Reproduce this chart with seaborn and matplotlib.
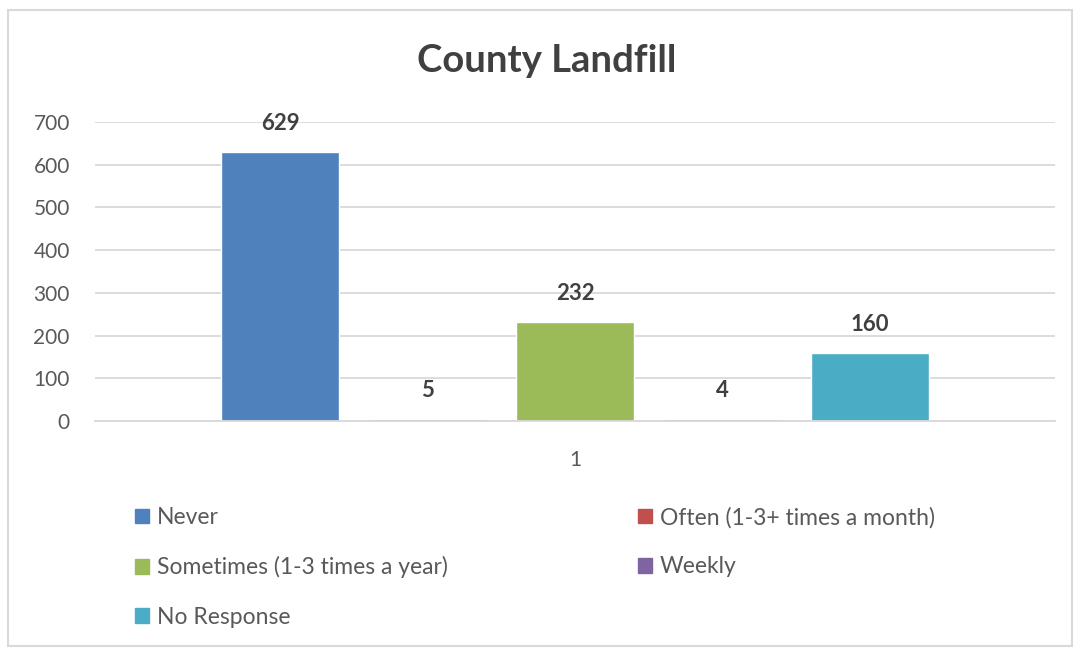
import pandas as pd
import matplotlib
matplotlib.use('Agg')
import matplotlib.pyplot as plt
from matplotlib.patches import Rectangle
import seaborn as sns

# data
categories = ['Never', 'Often (1-3+ times a month)', 'Sometimes (1-3 times a year)',
              'Weekly', 'No Response']
counts = [629, 5, 232, 4, 160]
colors = ['#4F81BD', '#C0504D', '#9BBB59', '#8064A2', '#4BACC6']
group_label = '1'
y_ticks = [0, 100, 200, 300, 400, 500, 600, 700]

df = pd.DataFrame({'group': [group_label] * len(categories),
                   'answer': categories,
                   'count': counts})

sns.set_theme(style='white')
plt.rcParams['font.family'] = ['Lato', 'DejaVu Sans']

fig = plt.figure(figsize=(10.78, 6.52), dpi=100)
ax = fig.add_axes([0.088, 0.354, 0.891, 0.459])

sns.barplot(data=df, x='group', y='count', hue='answer', hue_order=categories,
            palette=colors, width=0.768, gap=0.2, saturation=1, ax=ax,
            legend=False)

ax.set_xlim(-0.5, 0.5)
ax.set_ylim(0, 700)
ax.set_yticks(y_ticks)
ax.set_xlabel('')
ax.set_ylabel('')
ax.grid(axis='y', color='#D9D9D9', linewidth=1.3)
ax.set_axisbelow(True)
for s in ['top', 'right', 'left']:
    ax.spines[s].set_visible(False)
ax.spines['bottom'].set_color('#D9D9D9')
ax.spines['bottom'].set_linewidth(1.3)
ax.tick_params(axis='both', length=0, labelsize=15, colors='#595959')
ax.tick_params(axis='y', pad=18)
ax.tick_params(axis='x', pad=21)

# value labels
for cont in ax.containers:
    ax.bar_label(cont, padding=13, fontsize=16, fontweight='bold', color='#404040')

fig.text(0.507, 0.906, 'County Landfill', ha='center', va='center',
         fontsize=27.5, fontweight='bold', color='#404040')

# legend: row-major order like the reference, matplotlib fills by column
handles = [Rectangle((0, 0), 1, 1, color=c) for c in colors]
order = [0, 2, 4, 1, 3]
fig.legend([handles[i] for i in order], [categories[i] for i in order],
           ncol=2, loc='upper left', bbox_to_anchor=(0.117, 0.237),
           frameon=False, fontsize=16.5, labelcolor='#595959',
           handlelength=0.6, handleheight=0.6, handletextpad=0.35,
           columnspacing=8.3, labelspacing=1.23, borderaxespad=0)

# light chart border
fig.patches.append(Rectangle((8 / 1078, 6 / 652), 1064 / 1078, 636 / 652,
                             transform=fig.transFigure, fill=False,
                             edgecolor='#D9D9D9', linewidth=1.5))

fig.savefig('out.png', dpi=100)
